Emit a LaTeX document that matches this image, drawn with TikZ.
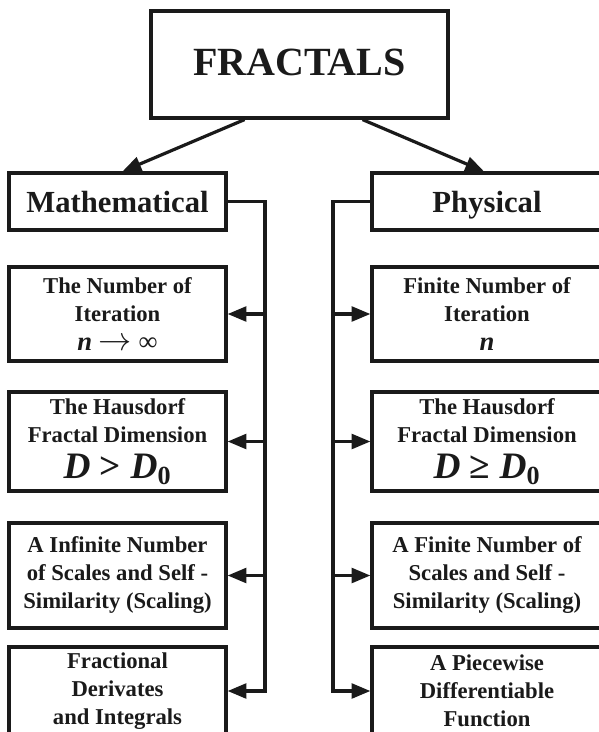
\documentclass[tikz,border=0pt]{standalone}
\usepackage{fontspec}
\setmainfont{Liberation Serif}
\usetikzlibrary{positioning,arrows.meta,calc}
\definecolor{ink}{HTML}{1A1A1A}

\begin{document}
\begin{tikzpicture}[x=0.75pt,y=-0.75pt,
  box/.style={draw=ink, line width=2.4pt, align=center, inner sep=0pt, text=ink,
    font=\bfseries\fontsize{17}{21}\selectfont},
  headbox/.style={box, minimum height=42.75pt, text height=16pt, text depth=0pt,
    font=\bfseries\fontsize{23}{26}\selectfont},
  leftbox/.style={box, minimum width=162.75pt},
  rightbox/.style={box, minimum width=172.5pt},
  wire/.style={draw=ink, line width=2.4pt},
  arr/.style={wire, -{Triangle[length=14pt,width=11pt]}}]
\useasboundingbox (0,0) rectangle (599,732);
\clip (0,0) rectangle (599,732);
\node[box, minimum width=222.75pt, minimum height=80.25pt, text height=20pt, text depth=3pt,
  font=\bfseries\fontsize{30}{34}\selectfont] (fractals) at (299.5,64.5) {FRACTALS};
\node[leftbox, headbox] (math) at (117.5,201.5) {Mathematical};
\node[rightbox, headbox] (phys) at (487,201.5) {Physical};

\node[leftbox, minimum height=70.5pt] (m1) at (117.5,314)
  {The Number of\\Iteration\\[1pt]{\fontsize{20}{22}\selectfont\textit{n}
  {\mdseries\fontsize{23}{23}\selectfont$\rightarrow$} {\mdseries ∞}}};
\node[leftbox, minimum height=74.25pt] (m2) at (117.5,441.5)
  {The Hausdorf\\Fractal Dimension\\[6pt]{\fontsize{28}{30}\selectfont\textit{D} > \textit{D}\textsubscript{\textup{0}}}};
\node[leftbox, minimum height=78.75pt] (m3) at (117.5,575.5)
  {A Infinite Number\\of Scales and Self -\\Similarity (Scaling)};
\node[leftbox, minimum height=66pt] (m4) at (117.5,691)
  {Fractional\\Derivates\\and Integrals};

\node[rightbox, minimum height=70.5pt] (p1) at (487,314)
  {Finite Number of\\Iteration\\[1pt]{\fontsize{20}{22}\selectfont\textit{n}}};
\node[rightbox, minimum height=74.25pt] (p2) at (487,441.5)
  {The Hausdorf\\Fractal Dimension\\[6pt]{\fontsize{28}{30}\selectfont\textit{D} ≥ \textit{D}\textsubscript{\textup{0}}}};
\node[rightbox, minimum height=78.75pt] (p3) at (487,575.5)
  {A Finite Number of\\Scales and Self -\\Similarity (Scaling)};
\node[rightbox, minimum height=66pt] (p4) at (487,691)
  {A Piecewise\\Differentiable\\Function};

\draw[arr] ($(fractals.south west)!0.317!(fractals.south east)$) -- ($(math.north)+(5,0)$);
\draw[arr] ($(fractals.south west)!0.71!(fractals.south east)$) -- ($(phys.north)+(-3,0)$);

\coordinate (mbus) at (265,0);
\coordinate (pbus) at (333,0);
\draw[arr] (math.east) -| (mbus |- m4.east) -- (m4.east);
\foreach \b in {m1,m2,m3}
  \draw[arr] (mbus |- \b.east) -- (\b.east);
\draw[arr] (phys.west) -| (pbus |- p4.west) -- (p4.west);
\foreach \b in {p1,p2,p3}
  \draw[arr] (pbus |- \b.west) -- (\b.west);
\end{tikzpicture}
\end{document}
